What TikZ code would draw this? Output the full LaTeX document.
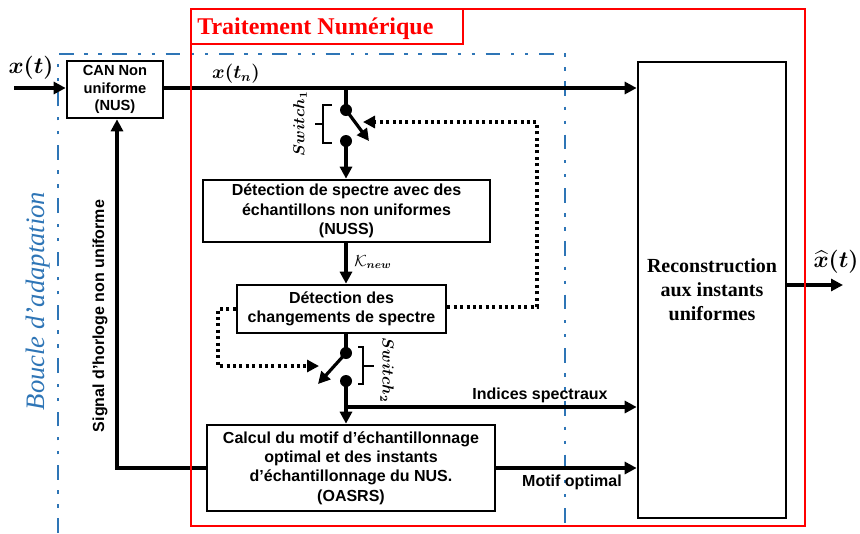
\documentclass[tikz,border=0pt]{standalone}
\usepackage{amsmath}
\usepackage{bm}
\usepackage{fontspec}
\setmainfont{Liberation Serif}
\setsansfont{Liberation Sans}
\usetikzlibrary{arrows.meta}
\definecolor{boucle}{RGB}{46,117,182}
\begin{document}
\begin{tikzpicture}[x=0.75pt,y=-0.75pt,
  box/.style={draw,line width=2pt,fill=white,align=center,inner sep=0pt,
    font=\sffamily\bfseries\fontsize{12}{14.6}\selectfont},
  conn/.style={line width=2.4pt,-{Triangle[length=9pt,width=9pt]}},
  wire/.style={line width=2.4pt},
  dotline/.style={line width=2.8pt,dash pattern=on 2.3pt off 2.5pt},
  swdot/.style={circle,fill,inner sep=0pt,minimum size=9pt},
  lab/.style={font=\sffamily\bfseries\fontsize{12}{14}\selectfont},
  redline/.style={draw=red,line width=2pt},
  blueline/.style={draw=boucle,line width=1.9pt,
    dash pattern=on 11pt off 8pt on 2.5pt off 8pt on 2.5pt off 8pt},
  brk/.style={line width=1.4pt}]
\useasboundingbox (0,0) rectangle (860,533);

% adaptation loop frame
\draw[blueline] (58,533) -- (58,54) -- (565,54) -- (565,533);
\node[rotate=90,text=boucle,font=\itshape\fontsize{20}{22}\selectfont] (boucle) at (38,301) {Boucle d’adaptation};

% boxes
\node[box,minimum width=72pt,minimum height=42.75pt,font=\sffamily\bfseries\fontsize{11}{13}\selectfont] (can) at (115,89.5) {CAN Non\\uniforme\\(NUS)};
\node[box,minimum width=215.25pt,minimum height=46.5pt] (nuss) at (346.5,211) {Détection de spectre avec des\\échantillons non uniformes\\(NUSS)};
\node[box,minimum width=156.75pt,minimum height=36pt] (dcs) at (341.5,309) {Détection des\\changements de spectre};
\node[box,minimum width=216pt,minimum height=64.5pt] (oasrs) at (351,468) {Calcul du motif d’échantillonnage\\optimal et des instants\\d’échantillonnage du NUS.\\(OASRS)};
\node[box,minimum width=111pt,minimum height=342pt,font=\bfseries\fontsize{15}{18}\selectfont] (recon) at (712,290) {Reconstruction\\aux instants\\uniformes};

% switches
\node[swdot] (s1a) at (346,110) {};
\node[swdot] (s1b) at (346,141) {};
\node[swdot] (s2a) at (346,353) {};
\node[swdot] (s2b) at (346,381) {};
\coordinate (in1) at (346,88);
\coordinate (b1tip) at (369,141);
\coordinate (b2tip) at (318,384);
\coordinate (br) at (346,407);
\coordinate (xin) at (14,88);
\coordinate (xout) at (843,285);
\coordinate (loopc) at (117,468);

% main connectors
\draw[conn] (xin) -- (xin -| can.west);
\draw[conn] (in1 -| can.east) -- (in1 -| recon.west);
\draw[wire] (in1) -- (s1a.center);
\draw[conn] (s1a.center) -- (b1tip);
\draw[conn] (s1b.center) -- (s1b |- nuss.north);
\draw[conn] (s1b |- nuss.south) -- (s1b |- dcs.north);
\draw[wire] (s1b |- dcs.south) -- (s2a.center);
\draw[conn] (s2a.center) -- (b2tip);
\draw[conn] (s2b.center) -- (s2b |- oasrs.north);
\draw[conn] (br) -- (br -| recon.west);
\draw[conn] (oasrs.east) -- (oasrs.east -| recon.west);
\draw[conn] (oasrs.west) -- (loopc) -- (loopc |- can.south);
\draw[conn] (recon.east |- xout) -- (xout);

% dotted control loops
\draw[dotline,-{Triangle[length=9pt,width=9pt]}] (dcs.east |- 0,307) -- (537,307) -- (537,122) -- (363,122);
\draw[dotline,-{Triangle[length=9pt,width=9pt]}] (dcs.west |- 0,309) -- (218,309) -- (218,366) -- (319,366);

% brackets
\draw[brk] (332,105) -- (323,105) -- (323,143) -- (332,143);
\draw[brk] (323,124) -- (315,124);
\draw[brk] (358,347) -- (363,347) -- (363,384) -- (358,384);
\draw[brk] (363,366) -- (374,366);
\node[rotate=90,font=\fontsize{12}{13}\selectfont] (sw1) at (300,124) {$\bm{Switch_1}$};
\node[rotate=-90,font=\fontsize{12}{13}\selectfont] (sw2) at (387,370) {$\bm{Switch_2}$};

% labels
\node[font=\fontsize{16}{18}\selectfont] (xt) at (31,68) {$\bm{x(t)}$};
\node[font=\fontsize{14}{16}\selectfont] (xtn) at (236,74) {$\bm{x(t_n)}$};
\node[font=\fontsize{16}{18}\selectfont,inner sep=1pt] (xh) at (836,262) {$\bm{\widehat{x}(t)}$};
\node[font=\fontsize{12}{14}\selectfont] (knew) at (373,262) {$\mathcal{K}_{\bm{new}}$};
\node[lab] (ind) at (540,395) {Indices spectraux};
\node[lab] (mot) at (572,482) {Motif optimal};
\node[lab,rotate=90] (sig) at (100,316) {Signal d'horloge non uniforme};

% digital processing frame
\draw[redline] (191,9) rectangle (805,526);
\node[draw=red,line width=2pt,minimum width=204pt,minimum height=26.25pt,inner sep=0pt] (tbox) at (327,26.5) {};
\node[anchor=west,text=red,font=\bfseries\fontsize{18}{20}\selectfont,inner sep=0pt] (title) at (197,29) {Traitement Numérique};
\end{tikzpicture}
\end{document}
